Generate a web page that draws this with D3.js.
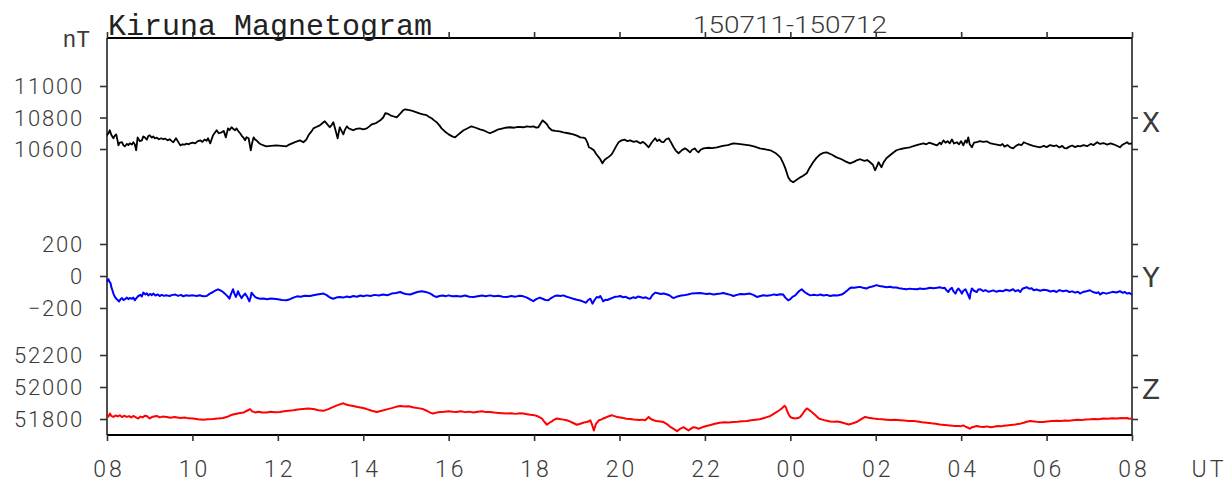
<!DOCTYPE html>
<html>
<head>
<meta charset="utf-8">
<script src="https://cdn.jsdelivr.net/npm/d3@7"></script>
<style>
  html, body { margin: 0; padding: 0; background: #fff; }
  svg { display: block; }
</style>
</head>
<body>
<svg id="chart" width="1225" height="484"></svg>
<script>
// ---- data (minutes after 08 UT on 150711, value in nT) ----
const title = "Kiruna Magnetogram";
const dateLabel = "150711-150712";
const hourLabels = ["08","10","12","14","16","18","20","22","00","02","04","06","08"];
const xTicks = [10600, 10800, 11000];
const yTicks = [-200, 0, 200];
const zTicks = [51800, 52000, 52200];

const seriesX = [[0,10687],[2,10700],[4,10719],[6,10690],[9,10668],[11,10685],[13,10693],[15,10650],[16,10623],[18,10640],[21,10643],[23,10625],[25,10617],[28,10632],[30,10625],[32,10636],[35,10628],[37,10643],[39,10630],[41,10592],[43,10674],[46,10650],[49,10655],[51,10680],[53,10674],[56,10660],[58,10682],[60,10687],[63,10672],[65,10680],[67,10668],[70,10672],[73,10662],[76,10668],[79,10662],[82,10666],[85,10655],[88,10662],[91,10650],[93,10643],[95,10655],[97,10668],[100,10645],[103,10623],[106,10630],[109,10628],[112,10634],[115,10630],[117,10636],[120,10640],[124,10636],[127,10648],[131,10655],[134,10645],[137,10660],[140,10652],[142,10668],[145,10636],[149,10687],[151,10700],[154,10719],[157,10700],[161,10706],[164,10715],[167,10674],[170,10731],[172,10720],[175,10738],[178,10725],[180,10719],[182,10731],[185,10710],[187,10700],[190,10680],[192,10670],[194,10655],[196,10675],[199,10668],[202,10592],[204,10640],[206,10674],[208,10660],[210,10655],[213,10640],[216,10630],[220,10623],[224,10617],[230,10620],[238,10623],[245,10620],[252,10617],[256,10628],[260,10636],[265,10645],[271,10655],[276,10643],[280,10660],[283,10687],[287,10710],[290,10731],[294,10740],[299,10750],[302,10762],[306,10776],[309,10760],[313,10738],[316,10755],[318,10770],[321,10720],[324,10668],[327,10738],[330,10710],[332,10693],[334,10720],[337,10744],[340,10730],[343,10725],[346,10719],[350,10728],[355,10731],[360,10725],[365,10731],[369,10745],[372,10757],[378,10765],[384,10782],[388,10800],[391,10827],[394,10825],[398,10814],[402,10808],[407,10801],[412,10825],[416,10845],[419,10852],[423,10848],[426,10846],[430,10840],[435,10833],[440,10825],[444,10820],[449,10815],[452,10805],[456,10795],[460,10780],[463,10770],[467,10750],[470,10731],[475,10710],[480,10693],[485,10680],[489,10674],[493,10690],[497,10705],[501,10719],[506,10730],[512,10744],[518,10735],[524,10725],[529,10719],[534,10708],[538,10700],[544,10712],[550,10725],[555,10730],[560,10735],[566,10738],[572,10735],[578,10740],[585,10738],[590,10743],[595,10740],[599,10744],[603,10736],[606,10738],[609,10760],[612,10782],[615,10770],[618,10757],[621,10735],[625,10719],[630,10715],[636,10712],[641,10706],[648,10700],[655,10693],[660,10685],[665,10674],[669,10672],[672,10668],[675,10640],[677,10611],[680,10605],[684,10592],[687,10570],[691,10547],[693,10535],[696,10509],[699,10530],[702,10541],[705,10550],[709,10566],[712,10590],[716,10623],[719,10645],[723,10655],[727,10660],[731,10650],[735,10655],[740,10645],[744,10650],[749,10636],[753,10645],[757,10630],[761,10611],[765,10640],[770,10668],[773,10650],[776,10660],[779,10645],[782,10643],[785,10660],[789,10668],[792,10645],[796,10611],[799,10590],[803,10573],[807,10590],[812,10604],[815,10595],[819,10579],[822,10595],[826,10604],[828,10590],[831,10579],[834,10595],[838,10604],[845,10608],[850,10605],[857,10611],[865,10620],[872,10625],[880,10636],[887,10632],[895,10628],[903,10623],[910,10615],[917,10604],[925,10598],[932,10592],[939,10575],[946,10547],[950,10510],[953,10477],[957,10420],[960,10400],[964,10389],[969,10405],[974,10420],[978,10430],[983,10446],[987,10480],[992,10516],[997,10545],[1002,10566],[1006,10575],[1011,10579],[1018,10565],[1025,10547],[1032,10535],[1038,10520],[1044,10509],[1050,10520],[1054,10530],[1058,10535],[1064,10525],[1068,10530],[1072,10516],[1076,10500],[1079,10465],[1082,10495],[1084,10516],[1086,10500],[1088,10484],[1091,10515],[1095,10541],[1100,10560],[1104,10575],[1109,10592],[1115,10600],[1121,10606],[1128,10611],[1134,10620],[1140,10628],[1147,10636],[1151,10630],[1155,10640],[1160,10632],[1166,10623],[1170,10640],[1172,10630],[1175,10655],[1178,10640],[1181,10650],[1184,10636],[1187,10660],[1190,10635],[1194,10643],[1197,10630],[1200,10650],[1203,10623],[1206,10655],[1208,10640],[1210,10674],[1212,10630],[1215,10611],[1218,10640],[1222,10643],[1226,10650],[1231,10645],[1236,10649],[1240,10638],[1245,10632],[1250,10628],[1255,10623],[1258,10632],[1261,10615],[1265,10625],[1269,10610],[1273,10604],[1277,10620],[1281,10630],[1285,10625],[1288,10643],[1292,10635],[1296,10628],[1301,10620],[1306,10615],[1311,10611],[1316,10620],[1320,10612],[1325,10625],[1330,10618],[1334,10623],[1338,10610],[1342,10620],[1345,10605],[1348,10604],[1352,10615],[1356,10622],[1360,10612],[1364,10620],[1367,10617],[1372,10625],[1377,10618],[1382,10632],[1386,10625],[1391,10643],[1395,10632],[1400,10638],[1405,10628],[1410,10636],[1414,10630],[1418,10622],[1423,10611],[1426,10625],[1430,10635],[1433,10643],[1436,10632],[1440,10636]];

const seriesY = [[0,-36],[2,-20],[3,-32],[5,-45],[6,-68],[8,-95],[9,-110],[11,-130],[13,-142],[15,-150],[17,-159],[19,-145],[21,-138],[23,-150],[25,-146],[28,-135],[30,-145],[32,-138],[35,-142],[37,-135],[39,-152],[41,-140],[44,-125],[47,-118],[49,-128],[51,-104],[54,-115],[56,-108],[58,-121],[61,-112],[63,-120],[65,-110],[68,-122],[71,-115],[74,-125],[77,-118],[80,-124],[84,-121],[88,-125],[92,-118],[96,-116],[100,-124],[104,-118],[107,-127],[111,-120],[115,-124],[121,-121],[126,-125],[130,-120],[135,-126],[140,-125],[144,-112],[149,-100],[152,-92],[156,-83],[160,-92],[163,-100],[166,-112],[168,-121],[170,-130],[172,-142],[174,-115],[177,-83],[179,-110],[181,-131],[183,-110],[184,-95],[186,-115],[189,-138],[191,-125],[194,-110],[197,-130],[200,-159],[202,-130],[203,-104],[205,-115],[208,-131],[211,-138],[215,-142],[220,-140],[225,-145],[230,-140],[234,-142],[240,-146],[246,-150],[252,-152],[257,-145],[262,-135],[267,-127],[272,-130],[278,-123],[285,-125],[290,-120],[295,-115],[300,-112],[304,-110],[308,-118],[312,-130],[315,-138],[318,-142],[322,-135],[327,-131],[332,-135],[337,-128],[341,-133],[346,-125],[351,-130],[356,-122],[360,-127],[365,-121],[370,-125],[376,-118],[382,-122],[388,-116],[394,-120],[400,-110],[406,-106],[412,-100],[416,-108],[420,-112],[426,-116],[431,-108],[436,-100],[442,-95],[446,-98],[451,-104],[455,-112],[459,-124],[463,-131],[467,-125],[472,-122],[476,-126],[480,-121],[485,-126],[491,-125],[497,-128],[503,-122],[509,-130],[515,-131],[521,-126],[527,-122],[532,-126],[538,-121],[544,-127],[550,-124],[556,-130],[562,-131],[568,-125],[574,-129],[580,-124],[585,-127],[590,-135],[595,-148],[599,-157],[603,-145],[608,-135],[612,-142],[616,-150],[620,-152],[624,-138],[629,-125],[633,-122],[637,-125],[641,-121],[645,-128],[650,-135],[655,-142],[660,-148],[665,-153],[669,-160],[673,-167],[676,-150],[679,-142],[682,-173],[685,-150],[688,-131],[691,-135],[693,-125],[695,-140],[697,-159],[700,-148],[703,-150],[707,-142],[711,-135],[714,-130],[718,-128],[721,-125],[725,-133],[729,-130],[732,-138],[735,-142],[739,-133],[743,-137],[746,-128],[749,-131],[753,-137],[757,-133],[760,-140],[763,-142],[766,-120],[770,-104],[774,-108],[778,-112],[782,-110],[786,-114],[790,-120],[793,-130],[796,-138],[800,-130],[804,-125],[807,-122],[810,-121],[816,-116],[821,-110],[827,-108],[833,-106],[838,-110],[843,-113],[847,-110],[852,-116],[857,-112],[862,-109],[866,-106],[871,-112],[876,-118],[880,-125],[885,-118],[890,-112],[896,-114],[903,-110],[908,-118],[913,-131],[918,-125],[922,-120],[927,-124],[932,-121],[937,-115],[941,-119],[946,-114],[950,-116],[953,-135],[957,-152],[960,-145],[963,-130],[967,-121],[970,-105],[973,-92],[976,-83],[980,-100],[984,-112],[988,-121],[993,-117],[998,-121],[1002,-116],[1007,-122],[1011,-118],[1016,-125],[1021,-120],[1026,-122],[1032,-116],[1036,-105],[1040,-90],[1043,-78],[1046,-72],[1050,-73],[1054,-70],[1058,-68],[1062,-73],[1067,-78],[1071,-70],[1075,-66],[1078,-62],[1081,-57],[1085,-62],[1090,-66],[1095,-70],[1100,-67],[1104,-72],[1109,-72],[1113,-76],[1118,-80],[1123,-83],[1128,-79],[1133,-82],[1138,-83],[1142,-78],[1147,-81],[1152,-78],[1156,-73],[1161,-77],[1166,-74],[1170,-70],[1174,-76],[1177,-74],[1179,-88],[1182,-100],[1184,-85],[1187,-74],[1189,-95],[1192,-110],[1194,-90],[1196,-78],[1199,-95],[1201,-110],[1203,-92],[1206,-83],[1209,-110],[1212,-142],[1213,-110],[1215,-78],[1218,-92],[1222,-100],[1224,-85],[1227,-83],[1231,-95],[1234,-88],[1238,-98],[1241,-95],[1245,-90],[1249,-98],[1254,-92],[1259,-95],[1263,-86],[1268,-92],[1273,-83],[1276,-95],[1280,-88],[1283,-100],[1286,-80],[1289,-75],[1292,-70],[1296,-80],[1299,-76],[1302,-89],[1306,-84],[1311,-92],[1316,-86],[1321,-89],[1325,-97],[1330,-92],[1334,-100],[1338,-88],[1343,-95],[1348,-91],[1352,-100],[1356,-96],[1360,-104],[1364,-98],[1367,-110],[1371,-100],[1376,-95],[1381,-89],[1385,-100],[1390,-106],[1393,-102],[1395,-116],[1399,-104],[1404,-110],[1409,-104],[1413,-99],[1418,-103],[1423,-95],[1427,-105],[1430,-100],[1433,-110],[1436,-106],[1440,-116]];

const seriesZ = [[0,51823],[2,51815],[4,51834],[6,51820],[9,51813],[12,51822],[15,51816],[18,51823],[21,51812],[24,51820],[28,51813],[31,51818],[34,51810],[37,51819],[40,51812],[44,51803],[47,51815],[50,51810],[53,51820],[56,51819],[58,51810],[60,51803],[63,51812],[66,51815],[70,51819],[74,51810],[78,51815],[84,51813],[89,51808],[95,51812],[103,51806],[109,51810],[115,51804],[121,51803],[128,51799],[135,51796],[142,51798],[149,51800],[156,51803],[163,51806],[168,51812],[172,51820],[177,51828],[182,51833],[187,51838],[192,51841],[196,51850],[201,51862],[204,51848],[208,51841],[213,51845],[218,51840],[224,51841],[230,51845],[236,51842],[243,51844],[249,51848],[255,51852],[262,51855],[268,51860],[275,51863],[283,51866],[290,51862],[297,51855],[304,51851],[311,51862],[318,51876],[325,51888],[332,51898],[336,51890],[340,51886],[346,51881],[352,51875],[358,51870],[365,51862],[372,51852],[379,51844],[386,51852],[393,51860],[400,51868],[406,51876],[412,51881],[418,51878],[424,51880],[431,51872],[437,51868],[444,51862],[450,51850],[454,51840],[458,51834],[463,51840],[468,51844],[474,51846],[480,51849],[486,51845],[491,51844],[497,51848],[503,51843],[509,51846],[515,51841],[521,51845],[527,51848],[532,51843],[538,51844],[544,51840],[550,51838],[556,51836],[562,51834],[568,51836],[574,51832],[580,51836],[585,51834],[590,51830],[595,51826],[600,51824],[604,51819],[608,51810],[611,51803],[614,51785],[618,51764],[621,51775],[625,51785],[628,51795],[632,51803],[636,51800],[641,51796],[646,51792],[650,51785],[655,51775],[660,51764],[665,51770],[670,51778],[674,51781],[677,51786],[679,51792],[681,51770],[684,51728],[687,51770],[691,51792],[694,51796],[697,51803],[700,51808],[704,51816],[709,51823],[713,51818],[717,51812],[721,51810],[725,51806],[730,51802],[735,51800],[740,51797],[744,51796],[748,51794],[752,51796],[756,51792],[758,51800],[761,51813],[764,51800],[768,51792],[772,51788],[777,51785],[782,51781],[786,51770],[789,51760],[792,51749],[796,51738],[801,51724],[805,51738],[810,51749],[813,51740],[817,51728],[820,51738],[824,51749],[828,51745],[831,51739],[836,51748],[842,51756],[848,51763],[854,51770],[861,51777],[867,51779],[873,51778],[880,51781],[886,51783],[892,51786],[899,51787],[905,51792],[911,51795],[917,51798],[922,51805],[927,51812],[932,51819],[936,51830],[941,51844],[945,51856],[948,51866],[950,51875],[952,51883],[954,51870],[955,51855],[957,51835],[960,51813],[963,51806],[967,51803],[971,51806],[974,51813],[977,51830],[979,51844],[981,51856],[983,51866],[986,51858],[990,51844],[995,51825],[1000,51803],[1005,51796],[1010,51790],[1016,51785],[1022,51783],[1026,51785],[1030,51781],[1036,51773],[1042,51766],[1047,51772],[1053,51781],[1058,51795],[1062,51806],[1065,51813],[1070,51808],[1077,51803],[1083,51800],[1089,51798],[1095,51796],[1101,51794],[1107,51795],[1114,51792],[1120,51790],[1126,51788],[1133,51787],[1139,51784],[1145,51780],[1152,51777],[1158,51773],[1164,51770],[1170,51766],[1177,51763],[1184,51760],[1190,51757],[1196,51756],[1199,51754],[1203,51760],[1207,51750],[1210,51745],[1212,51739],[1215,51748],[1218,51752],[1222,51756],[1227,51752],[1232,51750],[1236,51754],[1241,51749],[1246,51752],[1251,51756],[1256,51754],[1260,51758],[1264,51760],[1270,51763],[1276,51766],[1283,51771],[1288,51777],[1292,51783],[1297,51787],[1302,51785],[1308,51782],[1315,51781],[1321,51785],[1327,51787],[1334,51789],[1340,51787],[1346,51791],[1351,51789],[1357,51792],[1363,51795],[1369,51793],[1375,51797],[1381,51798],[1387,51800],[1393,51798],[1400,51803],[1406,51801],[1412,51805],[1419,51803],[1425,51806],[1430,51804],[1433,51806],[1436,51802],[1440,51803]];

// ---- layout ----
const L = 107, R = 1132, T = 38, B = 435;
const svg = d3.select("#chart");
const numFont = "Roboto, 'DejaVu Sans', sans-serif";
const monoFont = "'Liberation Mono', 'Courier New', monospace";
const textCol = "#3a3a3a";

const x = d3.scaleLinear().domain([0, 1440]).range([L, R]);
const sX = d3.scaleLinear().domain([10600, 11000]).range([149, 86]);
const sY = d3.scaleLinear().domain([-200, 200]).range([308, 244]);
const sZ = d3.scaleLinear().domain([51800, 52200]).range([419, 355]);

const hourTicks = d3.range(0, 1441, 120);
const fmt = d => d3.format("")(d).replace("-", "\u2212");

// frame
svg.append("line").attr("x1", L).attr("x2", R).attr("y1", T).attr("y2", T).attr("stroke", "#000").attr("stroke-width", 2.2);
svg.append("line").attr("x1", L).attr("x2", R).attr("y1", B).attr("y2", B).attr("stroke", "#000").attr("stroke-width", 2.2);
svg.append("line").attr("x1", L).attr("x2", L).attr("y1", T).attr("y2", B).attr("stroke", "#222").attr("stroke-width", 1.6);
svg.append("line").attr("x1", R).attr("x2", R).attr("y1", T).attr("y2", B).attr("stroke", "#222").attr("stroke-width", 1.6);

function styleAxis(g) {
  g.select(".domain").remove();
  g.selectAll(".tick line").attr("stroke", "#333").attr("stroke-width", 1.6);
}
// time axes (top & bottom)
const bottomAxis = d3.axisBottom(x).tickValues(hourTicks).tickSize(6).tickPadding(20)
  .tickFormat((d, i) => hourLabels[i]);
const gb = svg.append("g").attr("transform", `translate(0,${B})`).call(bottomAxis);
styleAxis(gb);
gb.selectAll(".tick text").attr("font-family", numFont).attr("font-size", 23).attr("font-weight", 300)
  .attr("fill", textCol).attr("letter-spacing", 3).attr("dx", 1.5);

const topAxis = d3.axisTop(x).tickValues(hourTicks).tickSize(6).tickFormat("");
const gt = svg.append("g").attr("transform", `translate(0,${T})`).call(topAxis);
styleAxis(gt);

// value axes (left & right) for each component
[[sX, xTicks], [sY, yTicks], [sZ, zTicks]].forEach(([s, tv]) => {
  const gl = svg.append("g").attr("transform", `translate(${L},0)`)
    .call(d3.axisLeft(s).tickValues(tv).tickSize(7).tickPadding(16).tickFormat(fmt));
  styleAxis(gl);
  gl.selectAll(".tick text").attr("font-family", numFont).attr("font-size", 22).attr("font-weight", 300)
    .attr("fill", textCol).attr("letter-spacing", 1.8).attr("dy", "0.36em");
  const gr = svg.append("g").attr("transform", `translate(${R},0)`)
    .call(d3.axisRight(s).tickValues(tv).tickSize(6).tickFormat(""));
  styleAxis(gr);
});

// lines
const line = s => d3.line().x(d => x(d[0])).y(d => s(d[1]));
svg.append("path").datum(seriesX).attr("d", line(sX)).attr("fill", "none").attr("stroke", "#000").attr("stroke-width", 1.8).attr("stroke-linejoin", "round");
svg.append("path").datum(seriesY).attr("d", line(sY)).attr("fill", "none").attr("stroke", "#0000ff").attr("stroke-width", 2).attr("stroke-linejoin", "round");
svg.append("path").datum(seriesZ).attr("d", line(sZ)).attr("fill", "none").attr("stroke", "#ff0000").attr("stroke-width", 2).attr("stroke-linejoin", "round");

// texts
svg.append("text").attr("x", L + 1).attr("y", 35).text(title)
  .attr("font-family", monoFont).attr("font-size", 30).attr("fill", "#222")
  .attr("textLength", 324).attr("lengthAdjust", "spacingAndGlyphs");
svg.append("text").attr("x", 693).attr("y", 33).text(dateLabel)
  .attr("font-family", numFont).attr("font-size", 24).attr("font-weight", 300).attr("fill", textCol)
  .attr("textLength", 194).attr("lengthAdjust", "spacingAndGlyphs");
svg.append("text").attr("x", 90).attr("y", 47).attr("text-anchor", "end").text("nT")
  .attr("font-family", monoFont).attr("font-size", 23).attr("fill", textCol);
svg.append("text").attr("x", 1209).attr("y", 477).attr("text-anchor", "middle").text("UT")
  .attr("font-family", numFont).attr("font-size", 23).attr("font-weight", 300).attr("fill", textCol).attr("letter-spacing", 3);

const comp = [["X", sX, 10775], ["Y", sY, 0], ["Z", sZ, 51990]];
comp.forEach(([lab, s, v]) => {
  svg.append("text").attr("x", R + 10).attr("y", s(v)).attr("dy", "0.35em").text(lab)
    .attr("font-family", monoFont).attr("font-size", 30).attr("fill", textCol);
});
</script>
</body>
</html>
